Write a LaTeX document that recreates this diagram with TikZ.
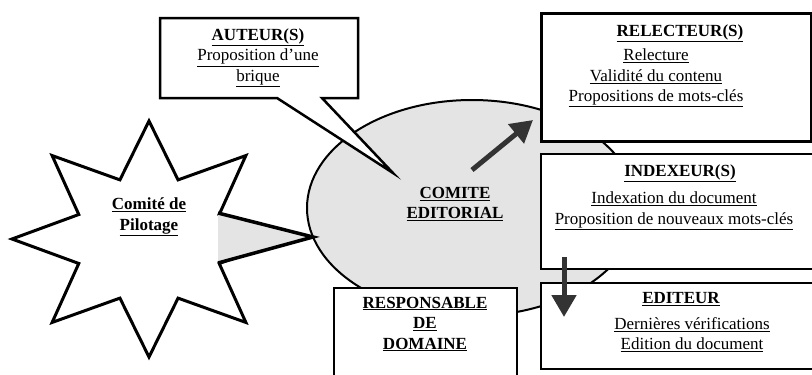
\documentclass[tikz,border=0pt]{standalone}
\usepackage{fontspec}
\setmainfont{Liberation Serif}
\usetikzlibrary{arrows.meta,shapes.geometric}
\definecolor{lgray}{RGB}{228,228,228}
\definecolor{agray}{RGB}{51,51,51}
\newcommand{\ulx}[1]{\underline{#1}}
\begin{document}
\begin{tikzpicture}[x=1pt,y=-1pt,
  txt/.style={font=\fontsize{17}{20.5}\selectfont, align=center, inner sep=0pt},
  ttl/.style={txt, font=\fontsize{17}{20.5}\selectfont\bfseries},
  boxthin/.style={draw, fill=white, line width=1.5pt, inner sep=0pt, anchor=north west},
  boxthick/.style={boxthin, line width=2.5pt},
  bigarrow/.style={draw=agray, line width=5pt, -{Triangle[length=22pt,width=24pt]}}
]
\useasboundingbox (0,0) rectangle (812,375);
\fill[white] (0,0) rectangle (812,375);

% comite editorial ellipse
\node[ellipse, draw, fill=lgray, line width=2pt, minimum width=330, minimum height=216, inner sep=0pt] (ce) at (472,208) {};

% star
\begin{scope}[shift={(149,239)}]
  \draw[line width=3pt, line join=miter, fill=white]
    (0:137 and 118) -- (22.5:76 and 64) -- (45:137 and 118) -- (67.5:76 and 64)
    -- (90:137 and 118) -- (112.5:76 and 64) -- (135:137 and 118) -- (157.5:76 and 64)
    -- (180:137 and 118) -- (202.5:76 and 64) -- (225:137 and 118) -- (247.5:76 and 64)
    -- (270:137 and 118) -- (292.5:76 and 64) -- (315:137 and 118) -- (337.5:76 and 64) -- cycle;
\end{scope}

% wedge from star to ellipse
\coordinate (w1) at (218,213);
\coordinate (w2) at (313,237);
\coordinate (w3) at (218,263);
\fill[lgray] (w1) -- (w2) -- (w3) -- cycle;
\draw[line width=3.5pt, line join=miter] (w1) -- (w2) -- (w3);

% auteur callout
\draw[line width=2.5pt, fill=white, line join=miter]
  (160,18) -- (358,18) -- (358,98) -- (322,98) -- (393,173) -- (277,98) -- (160,98) -- cycle;

% boxes
\node[boxthick, minimum width=270, minimum height=128] (rel) at (540,12) {};
\node[boxthin, minimum width=276, minimum height=115] (idx) at (540,153) {};
\node[boxthin, minimum width=276, minimum height=86] (edi) at (540,282) {};
\node[boxthin, minimum width=183, minimum height=95] (rdd) at (333,287) {};

% arrows
\coordinate (u1) at (472,170);
\coordinate (u2) at (533,120);
\draw[bigarrow] (u1) -- (u2);
\coordinate (d1) at (564,257);
\coordinate (d2) at (564,317);
\draw[bigarrow] (d1) -- (d2);

% texts
\node[ttl] (tstar) at (149,217) {\ulx{Comité de}\\\ulx{Pilotage}};
\node[ttl] (tce) at (455,204) {\ulx{COMITE}\\\ulx{EDITORIAL}};
\node[ttl] (taut) at (258,37) {\ulx{AUTEUR(S)}};
\node[txt] (taut2) at (258,68) {\ulx{Proposition d'une}\\\ulx{brique}};
\node[ttl] (trel) at (680,33) {\ulx{RELECTEUR(S)}};
\node[txt] (trel2) at (656,78) {\ulx{Relecture}\\\ulx{Validité du contenu}\\\ulx{Propositions de mots-clés}};
\node[ttl] (tidx) at (680,173) {\ulx{INDEXEUR(S)}};
\node[txt] (tidx2) at (674,211) {\ulx{Indexation du document}\\\ulx{Proposition de nouveaux mots-clés}};
\node[ttl] (tedi) at (681,299) {\ulx{EDITEUR}};
\node[txt] (tedi2) at (692,334.5) {\ulx{Dernières vérifications}\\\ulx{Edition du document}};
\node[ttl] (trdd) at (425,324) {\ulx{RESPONSABLE}\\\ulx{DE}\\\ulx{DOMAINE}};
\end{tikzpicture}
\end{document}
